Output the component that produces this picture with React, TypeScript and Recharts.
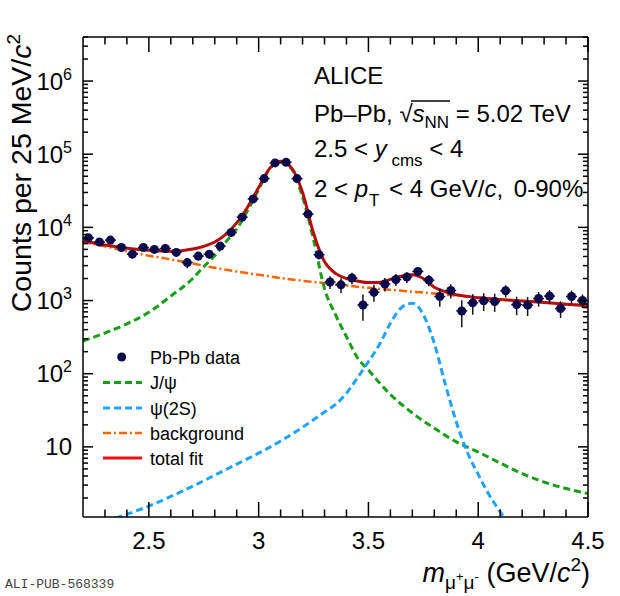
import React from "react";
import { ComposedChart, Line, Scatter, XAxis, YAxis, ErrorBar } from "recharts";

// measured invariant-mass bins (bin centres, GeV/c^2) and counts
const massBins = [
  2.225, 2.275, 2.325, 2.375, 2.425, 2.475, 2.525, 2.575, 2.625, 2.675, 2.725, 2.775, 2.825,
  2.875, 2.925, 2.975, 3.025, 3.075, 3.125, 3.175, 3.225, 3.275,
  3.325, 3.375, 3.425, 3.475, 3.525, 3.575, 3.625, 3.675, 3.725, 3.775, 3.825, 3.875, 3.925, 3.975,
  4.025, 4.075, 4.125, 4.175, 4.225, 4.275, 4.325, 4.375, 4.425, 4.475,
];
const counts = [
  7200, 6300, 6700, 5300, 4300, 5300, 5000, 5150, 4550, 3300, 4050, 4300, 5550,
  8500, 13800, 24500, 46400, 76000, 77500, 46400, 15200, 4230,
  1790, 1640, 2030, 870, 1300, 1680, 1940, 2090, 2500, 1900, 1135, 1370, 720, 930,
  990, 970, 1360, 880, 865, 1065, 1150, 777, 1135, 1000,
];
const countErr = [
  650, 600, 620, 580, 560, 580, 570, 570, 560, 540, 550, 560, 600,
  700, 850, 1100, 1500, 1900, 1900, 1500, 900, 550,
  350, 380, 360, 340, 340, 350, 360, 350, 340, 330, 310, 300, 290, 290,
  270, 270, 260, 250, 250, 240, 240, 200, 230, 210,
];
const binHalfWidth = 0.025;

// fitted components
const jpsiX = [2.2, 2.3, 2.4, 2.5, 2.6, 2.7, 2.75, 2.8, 2.85, 2.9, 2.95, 3.0, 3.05, 3.1, 3.15, 3.2, 3.25, 3.3, 3.35, 3.4, 3.45, 3.5, 3.55, 3.6, 3.7, 3.8, 3.9, 4.0, 4.1, 4.2, 4.3, 4.4, 4.5];
const jpsiY = [280, 360, 480, 690, 1150, 2000, 2900, 4100, 6300, 9500, 17000, 33000, 63000, 77000, 63000, 26000, 6800, 1450, 640, 320, 165, 112, 75, 52, 29, 18, 11.7, 8.5, 6, 4.3, 3.3, 2.7, 2.3];

const psi2sX = [2.3, 2.4, 2.5, 2.6, 2.7, 2.8, 2.9, 3.0, 3.1, 3.2, 3.3, 3.35, 3.4, 3.45, 3.5, 3.55, 3.6, 3.65, 3.7, 3.75, 3.8, 3.85, 3.9, 3.95, 4.0, 4.05, 4.1, 4.15];
const psi2sY = [0.95, 1.2, 1.55, 2.1, 2.9, 4.1, 5.8, 8.2, 12, 18.5, 30, 38, 54, 88, 146, 250, 490, 800, 920, 640, 260, 72, 22, 8.5, 4.2, 2.2, 1.3, 0.8];

const bkgX = [2.2, 2.3, 2.4, 2.5, 2.6, 2.7, 2.8, 2.9, 3.0, 3.1, 3.2, 3.3, 3.4, 3.5, 3.6, 3.7, 3.8, 3.9, 4.0, 4.1, 4.2, 4.3, 4.4, 4.5];
const bkgY = [6300, 5500, 4700, 4100, 3650, 3200, 2800, 2500, 2250, 2030, 1860, 1730, 1600, 1490, 1400, 1320, 1250, 1170, 1100, 1040, 990, 940, 890, 850];

const fitX = [2.2, 2.3, 2.4, 2.5, 2.6, 2.7, 2.75, 2.8, 2.85, 2.9, 2.95, 3.0, 3.05, 3.1, 3.15, 3.2, 3.25, 3.3, 3.35, 3.4, 3.45, 3.5, 3.55, 3.6, 3.65, 3.7, 3.75, 3.8, 3.85, 3.9, 3.95, 4.0, 4.1, 4.2, 4.3, 4.4, 4.5];
const fitY = [6500, 5750, 5200, 4850, 4700, 5050, 5500, 6300, 8000, 11500, 19000, 35000, 64000, 80000, 65000, 30000, 8300, 3400, 2350, 2000, 1850, 1760, 1760, 1950, 2150, 2250, 2000, 1520, 1320, 1200, 1140, 1090, 1030, 985, 940, 890, 850];

// axes
const xDomain = [2.2, 4.5];
const xTicks = [2.3, 2.4, 2.5, 2.6, 2.7, 2.8, 2.9, 3, 3.1, 3.2, 3.3, 3.4, 3.5, 3.6, 3.7, 3.8, 3.9, 4, 4.1, 4.2, 4.3, 4.4, 4.5];
const xMajorTicks = [2.5, 3, 3.5, 4, 4.5];
const xTickLabels = ["2.5", "3", "3.5", "4", "4.5"];
const yDomain = [1.1, 4e6];
const yDecades = [1, 10, 100, 1e3, 1e4, 1e5, 1e6];
const yMantissas = [1, 2, 3, 4, 5, 6, 7, 8, 9];
const yMajorTicks = [10, 100, 1e3, 1e4, 1e5, 1e6];
const yTickExponents = ["", "2", "3", "4", "5", "6"];

const yTicks = yDecades
  .flatMap((d) => yMantissas.map((m) => m * d))
  .filter((v) => v >= yDomain[0] && v <= yDomain[1]);

const pointsData = massBins.map((m, i) => ({ x: m, y: counts[i], ey: countErr[i], ex: binHalfWidth }));
const toSeries = (xs: number[], ys: number[]) => xs.map((x, i) => ({ x, y: ys[i] }));
const jpsiData = toSeries(jpsiX, jpsiY);
const psi2sData = toSeries(psi2sX, psi2sY);
const bkgData = toSeries(bkgX, bkgY);
const fitData = toSeries(fitX, fitY);

const FONT = "'Liberation Sans', Arial, Helvetica, sans-serif";
const C_FIT = "#b50d0d";
const C_JPSI = "#17a017";
const C_PSI2S = "#1ea4ff";
const C_BKG = "#ff6400";
const C_DATA = "#0a0a4d";

const majorIdx = (v: number, list: number[]) => list.findIndex((t) => Math.abs(t / v - 1) < 1e-9);

// inward tick marks on the frame
function TickMark(p: any) {
  const v = p.payload.value;
  const horizontal = p.side === "left" || p.side === "right";
  const major = majorIdx(v, horizontal ? yMajorTicks : xMajorTicks) >= 0;
  const len = horizontal ? (major ? 10 : 5) : major ? 15 : 7.5;
  const d =
    p.side === "bottom"
      ? `M${p.x},${p.y}V${p.y - len}`
      : p.side === "top"
      ? `M${p.x},${p.y}V${p.y + len}`
      : p.side === "left"
      ? `M${p.x},${p.y}H${p.x + len}`
      : `M${p.x},${p.y}H${p.x - len}`;
  return <path d={d} stroke="#000" strokeWidth={1.5} fill="none" />;
}

function XLabel(p: any) {
  const k = majorIdx(p.payload.value, xMajorTicks);
  if (k < 0) return <g />;
  return (
    <text x={p.x} y={p.y + 31} textAnchor="middle" fontSize={24} fontFamily={FONT} fill="#000">
      {xTickLabels[k]}
    </text>
  );
}

function YLabel(p: any) {
  const k = majorIdx(p.payload.value, yMajorTicks);
  if (k < 0) return <g />;
  return (
    <text x={p.x - 10} y={p.y + 8.5} textAnchor="end" fontSize={24} fontFamily={FONT} fill="#000">
      10
      {yTickExponents[k] && (
        <tspan fontSize={16} dy={-10}>
          {yTickExponents[k]}
        </tspan>
      )}
    </text>
  );
}

const legendRows = [357, 382.5, 408, 433, 458];

function Overlay() {
  return (
    <svg
      width={620}
      height={596}
      style={{ position: "absolute", left: 0, top: 0, pointerEvents: "none" }}
      fontFamily={FONT}
    >
      {/* annotation */}
      <text x={314} y={84} fontSize={24}>ALICE</text>
      <text x={314} y={122} fontSize={24}>
        Pb–Pb, √<tspan fontStyle="italic">s</tspan>
        <tspan fontSize={17} dy={6}>NN</tspan>
        <tspan dy={-6}> = 5.02 TeV</tspan>
      </text>
      <line x1={411} x2={450} y1={101} y2={101} stroke="#000" strokeWidth={1.3} />
      <text x={314} y={157} fontSize={24}>
        2.5 &lt; <tspan fontStyle="italic">y</tspan>
        <tspan fontSize={17} dy={9}> cms</tspan>
        <tspan dy={-9}> &lt; 4</tspan>
      </text>
      <text x={314} y={197} fontSize={24}>
        2 &lt; <tspan fontStyle="italic">p</tspan>
        <tspan fontSize={17} dy={9} dx={1}>T</tspan>
        <tspan dy={-9} dx={3}> &lt; 4 GeV/</tspan>
        <tspan fontStyle="italic">c</tspan>
        <tspan>, </tspan>
        <tspan dx={4}>0-90%</tspan>
      </text>

      {/* legend */}
      <circle cx={121.7} cy={legendRows[0]} r={4.5} fill={C_DATA} />
      <line x1={103} x2={142} y1={legendRows[1]} y2={legendRows[1]} stroke={C_JPSI} strokeWidth={3} strokeDasharray="7 4" />
      <line x1={103} x2={142} y1={legendRows[2]} y2={legendRows[2]} stroke={C_PSI2S} strokeWidth={3} strokeDasharray="7 4" />
      <line x1={103} x2={142} y1={legendRows[3]} y2={legendRows[3]} stroke={C_BKG} strokeWidth={2.5} strokeDasharray="8 3 2 3" />
      <line x1={103} x2={142} y1={legendRows[4]} y2={legendRows[4]} stroke="#ee1111" strokeWidth={3} />
      {["Pb-Pb data", "J/ψ", "ψ(2S)", "background", "total fit"].map((t, i) => (
        <text key={t} x={150} y={legendRows[i] + 6.5} fontSize={18}>
          {t}
        </text>
      ))}

      {/* axis titles */}
      <text transform="translate(31,34) rotate(-90)" textAnchor="end" fontSize={28.5}>
        Counts per 25 MeV/<tspan fontStyle="italic">c</tspan>
        <tspan fontSize={19} dy={-11}>2</tspan>
      </text>
      <text x={590} y={582} textAnchor="end" fontSize={27}>
        <tspan fontStyle="italic">m</tspan>
        <tspan fontSize={19} dy={7}>μ</tspan>
        <tspan fontSize={13} dy={-8}>+</tspan>
        <tspan fontSize={19} dy={8}>μ</tspan>
        <tspan fontSize={13} dy={-8}>-</tspan>
        <tspan dy={1}> (GeV/</tspan>
        <tspan fontStyle="italic">c</tspan>
        <tspan fontSize={19} dy={-11}>2</tspan>
        <tspan dy={11}>)</tspan>
      </text>

      <text x={5} y={588} fontSize={13} fontFamily="'Liberation Mono', 'DejaVu Sans Mono', monospace" fill="#444">
        ALI-PUB-568339
      </text>
    </svg>
  );
}

export default function App() {
  const axisLine = { stroke: "#000", strokeWidth: 1.5 };
  const xCommon = { dataKey: "x", type: "number" as const, domain: xDomain, allowDataOverflow: true, ticks: xTicks, interval: 0, tickSize: 0, tickMargin: 0, tickLine: false };
  const yCommon = { type: "number" as const, scale: "log" as const, domain: yDomain, allowDataOverflow: true, ticks: yTicks, interval: 0, tickSize: 0, tickMargin: 0, tickLine: false };
  return (
    <div style={{ position: "absolute", left: 0, top: 0, width: 620, height: 596, background: "#fff" }}>
      <ComposedChart width={620} height={596} margin={{ top: 36, right: 31, bottom: 0, left: 0 }}>
        {/* frame axes (ids sort nearest the plot first): thin ones carry the tick marks, the next ones the labels */}
        <XAxis xAxisId="aFrameBottom" orientation="bottom" height={1} axisLine={axisLine} {...xCommon} tick={(p: any) => <TickMark key={p.index} {...p} side="bottom" />} />
        <XAxis xAxisId="bLabelsBottom" orientation="bottom" height={78} axisLine={false} {...xCommon} tick={(p: any) => <XLabel key={p.index} {...p} />} />
        <YAxis yAxisId="aFrameLeft" orientation="left" width={1} axisLine={axisLine} {...yCommon} tick={(p: any) => <TickMark key={p.index} {...p} side="left" />} />
        <YAxis yAxisId="bLabelsLeft" orientation="left" width={82} axisLine={false} {...yCommon} tick={(p: any) => <YLabel key={p.index} {...p} />} />
        <XAxis xAxisId="aFrameTop" orientation="top" height={1} axisLine={axisLine} {...xCommon} tick={(p: any) => <TickMark key={p.index} {...p} side="top" />} />
        <YAxis yAxisId="aFrameRight" orientation="right" width={1} axisLine={axisLine} {...yCommon} tick={(p: any) => <TickMark key={p.index} {...p} side="right" />} />
        {/* axes the series are drawn against (hidden, same domains as the frame) */}
        <XAxis xAxisId="main" dataKey="x" type="number" domain={xDomain} allowDataOverflow hide height={0} />
        <YAxis yAxisId="main" type="number" scale="log" domain={yDomain} allowDataOverflow hide width={0} />

        <Line xAxisId="main" yAxisId="main" data={bkgData} dataKey="y" type="monotone" stroke={C_BKG} strokeWidth={2.5} strokeDasharray="8 3 2 3" dot={false} activeDot={false} isAnimationActive={false} />
        <Line xAxisId="main" yAxisId="main" data={jpsiData} dataKey="y" type="monotone" stroke={C_JPSI} strokeWidth={3} strokeDasharray="7 4" dot={false} activeDot={false} isAnimationActive={false} />
        <Line xAxisId="main" yAxisId="main" data={psi2sData} dataKey="y" type="monotone" stroke={C_PSI2S} strokeWidth={3} strokeDasharray="7 4" dot={false} activeDot={false} isAnimationActive={false} />
        <Line xAxisId="main" yAxisId="main" data={fitData} dataKey="y" type="monotone" stroke={C_FIT} strokeWidth={3} dot={false} activeDot={false} isAnimationActive={false} />
        <Scatter
          xAxisId="main"
          yAxisId="main"
          data={pointsData}
          dataKey="y"
          isAnimationActive={false}
          shape={(p: any) => <circle cx={p.cx} cy={p.cy} r={4.5} fill={C_DATA} />}
        >
          <ErrorBar dataKey="ey" direction="y" width={0} stroke="#151515" strokeWidth={1.5} isAnimationActive={false} />
          <ErrorBar dataKey="ex" direction="x" width={0} stroke="#151515" strokeWidth={1.5} isAnimationActive={false} />
        </Scatter>
      </ComposedChart>
      <Overlay />
    </div>
  );
}
